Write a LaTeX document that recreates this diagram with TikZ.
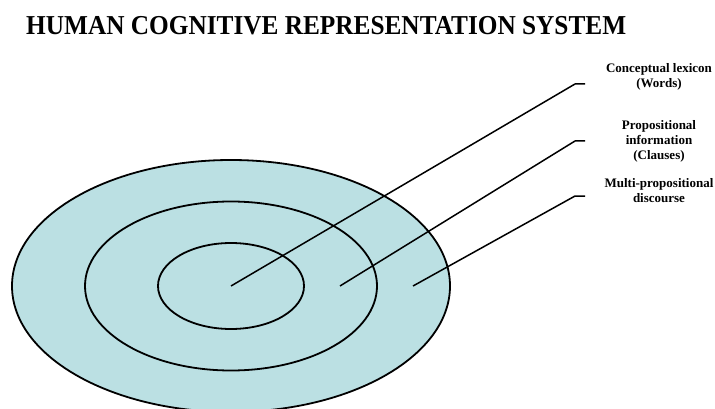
\documentclass[tikz,border=0pt]{standalone}
\usepackage{fontspec}
\setmainfont{Liberation Serif}
\begin{document}
\begin{tikzpicture}[x=1pt,y=-1pt,
  ring/.style={draw=black,line width=1.8pt},
  leader/.style={draw=black,line width=1.5pt,line join=round},
  lbl/.style={font=\bfseries\fontsize{13}{15}\selectfont,align=center,inner sep=0pt,anchor=center},
  heading/.style={font=\bfseries\fontsize{25.3}{28}\selectfont,inner sep=0pt,anchor=base west}]
\definecolor{ringfill}{RGB}{187,224,227}
\useasboundingbox (0,0) rectangle (715,409);
\clip (0,0) rectangle (715,409);

% title, set slightly tall
\node[heading] (title) at (26,35) {\scalebox{1}[1.08]{HUMAN COGNITIVE REPRESENTATION SYSTEM}};

% concentric rings
\coordinate (c) at (231,286);
\fill[ringfill] (c) ellipse [x radius=219pt, y radius=126pt];
\draw[ring] (c) ellipse [x radius=219pt, y radius=126pt];
\draw[ring] (c) ellipse [x radius=146pt, y radius=84.5pt];
\draw[ring] (c) ellipse [x radius=73pt, y radius=43pt];

% level labels
\node[lbl] (words) at (659,76.5) {Conceptual lexicon\\(Words)};
\node[lbl] (clauses) at (659,141) {Propositional\\information\\(Clauses)};
\node[lbl] (discourse) at (659,191) {Multi-propositional\\discourse};

% leader lines: point in ring, bend, short horizontal run
\coordinate (p1) at (231,286);
\coordinate (k1) at (575,84);
\coordinate (e1) at (585,84);
\coordinate (p2) at (340,286);
\coordinate (k2) at (575,141);
\coordinate (e2) at (585,141);
\coordinate (p3) at (413,286);
\coordinate (k3) at (575,196);
\coordinate (e3) at (585,196);
\draw[leader] (p1) -- (k1) -- (e1);
\draw[leader] (p2) -- (k2) -- (e2);
\draw[leader] (p3) -- (k3) -- (e3);
\end{tikzpicture}
\end{document}
